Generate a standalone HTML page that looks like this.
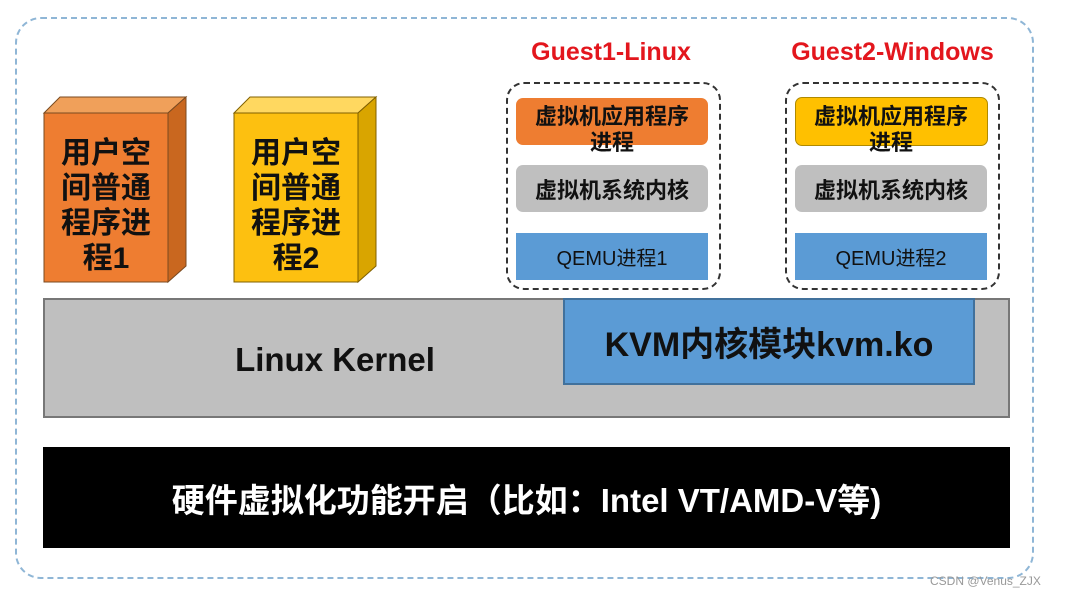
<!DOCTYPE html>
<html><head><meta charset="utf-8"><style>
body{margin:0;width:1072px;height:597px;background:#fff;position:relative;overflow:hidden;font-family:"Liberation Sans","Noto Sans CJK SC",sans-serif;font-weight:bold}
.a{position:absolute;box-sizing:border-box}
.c{display:flex;align-items:center;justify-content:center;text-align:center}
</style></head><body>
<div class="a" style="left:15px;top:17px;width:1019px;height:562px;border:2px dashed #8fb6d6;border-radius:26px"></div>

<svg class="a" style="left:0;top:0" width="1072" height="597">
<polygon points="44,113 60,97 186,97 168,113" fill="#f0a05a" stroke="#7a4a20" stroke-width="1"/>
<polygon points="168,113 186,97 186,266 168,282" fill="#c9671f" stroke="#7a4a20" stroke-width="1"/>
<rect x="44" y="113" width="124" height="169" fill="#ee7d31" stroke="#7a4a20" stroke-width="1"/>
<polygon points="234,113 250,97 376,97 358,113" fill="#ffd860" stroke="#806000" stroke-width="1"/>
<polygon points="358,113 376,97 376,266 358,282" fill="#d9a500" stroke="#806000" stroke-width="1"/>
<rect x="234" y="113" width="124" height="169" fill="#fdc010" stroke="#806000" stroke-width="1"/>
</svg>
<div class="a c" style="left:44px;top:121px;width:124px;height:169px;font-size:30px;line-height:35px;color:#111">用户空<br>间普通<br>程序进<br>程1</div>
<div class="a c" style="left:234px;top:121px;width:124px;height:169px;font-size:30px;line-height:35px;color:#111">用户空<br>间普通<br>程序进<br>程2</div>

<div class="a c" style="left:496px;top:36px;width:230px;height:32px;color:#e3161d;font-size:25px">Guest1-Linux</div>
<div class="a c" style="left:760px;top:36px;width:265px;height:32px;color:#e3161d;font-size:25px">Guest2-Windows</div>

<div class="a" style="left:506px;top:82px;width:215px;height:208px;border:2px dashed #333;border-radius:18px"></div>
<div class="a" style="left:516px;top:98px;width:192px;height:47px;background:#ee7d31;border-radius:7px"></div>
<div class="a c" style="left:506px;top:104px;width:212px;font-size:22px;line-height:26px;color:#111">虚拟机应用程序<br>进程</div>
<div class="a c" style="left:516px;top:165px;width:192px;height:47px;background:#bfbfbf;border-radius:7px;font-size:22px;color:#111">虚拟机系统内核</div>
<div class="a c" style="left:516px;top:233px;width:192px;height:47px;background:#5b9bd5;font-size:20px;color:#111;font-weight:normal">QEMU进程1</div>

<div class="a" style="left:785px;top:82px;width:215px;height:208px;border:2px dashed #333;border-radius:18px"></div>
<div class="a" style="left:795px;top:97px;width:193px;height:49px;background:#ffc000;border:1px solid #b08a00;border-radius:7px"></div>
<div class="a c" style="left:785px;top:104px;width:212px;font-size:22px;line-height:26px;color:#111">虚拟机应用程序<br>进程</div>
<div class="a c" style="left:795px;top:165px;width:192px;height:47px;background:#bfbfbf;border-radius:7px;font-size:22px;color:#111">虚拟机系统内核</div>
<div class="a c" style="left:795px;top:233px;width:192px;height:47px;background:#5b9bd5;font-size:20px;color:#111;font-weight:normal">QEMU进程2</div>

<div class="a" style="left:43px;top:298px;width:967px;height:120px;background:#bfbfbf;border:2px solid #777"></div>
<div class="a c" style="left:185px;top:338px;width:300px;height:44px;font-size:33px;color:#111">Linux Kernel</div>
<div class="a c" style="left:563px;top:298px;width:412px;height:87px;background:#5b9bd5;border:2px solid #41719c;font-size:34px;color:#111">KVM内核模块kvm.ko</div>

<div class="a c" style="left:43px;top:447px;width:967px;height:101px;background:#000;color:#fff;font-size:33px">硬件虚拟化功能开启（比如：Intel VT/AMD-V等)</div>

<div class="a" style="left:930px;top:574px;font-size:12px;font-weight:normal;color:#999">CSDN @Venus_ZJX</div>
</body></html>
